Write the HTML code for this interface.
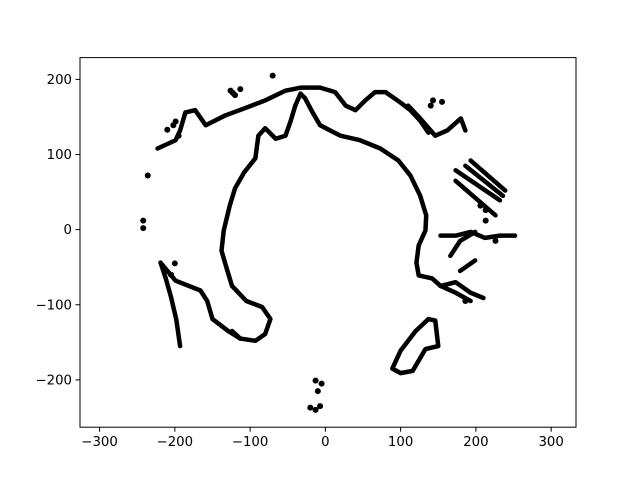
<!DOCTYPE html>
<html><head><meta charset="utf-8"><style>
body{margin:0;background:#fff}
svg text{font-family:"DejaVu Sans","Liberation Sans",sans-serif;font-size:13.3px;fill:#000}
</style></head><body>
<svg id="chart" width="640" height="480" xmlns="http://www.w3.org/2000/svg">
<rect x="0" y="0" width="640" height="480" fill="#fff"/>
<g id="marks"></g>
<g id="axes"></g>
</svg>
<script>
const xTicks=[-300,-200,-100,0,100,200,300];
const yTicks=[-200,-100,0,100,200];
const seriesMainArc=[[-33,181],[-40,165],[-46,145],[-53,125],[-66,121],[-80,135],[-89,125],[-93,95],[-108,76],[-120,55],[-127,32],[-135,-1],[-138,-28],[-131,-52],[-124,-75],[-105,-95],[-84,-103],[-73,-119],[-80,-139],[-93,-148],[-113,-145],[-124,-135]];
const seriesLeftLower=[[-219,-44],[-199,-68],[-166,-81],[-157,-95],[-150,-119],[-129,-135],[-113,-145]];
const seriesLeftLine=[[-219,-44],[-212,-65],[-205,-90],[-198,-120],[-193,-155]];
const seriesTopBand=[[-223,108],[-199,119],[-193,132],[-186,156],[-173,159],[-159,139],[-133,152],[-106,162],[-80,172],[-53,185],[-33,189],[-7,189],[13,183],[27,165],[40,159],[53,172],[66,183],[80,183],[100,169],[113,159],[126,145],[137,129]];
const seriesRightArc=[[-33,181],[-27,175],[-17,156],[-7,139],[20,125],[46,119],[73,108],[97,92],[113,72],[126,45],[134,19],[133,-1],[124,-21],[121,-44],[124,-61],[142,-65],[153,-75],[173,-84],[193,-95]];
const seriesBottomLoop=[[89,-185],[100,-161],[120,-135],[137,-119],[146,-121],[150,-155],[133,-159],[116,-188],[100,-191],[89,-185]];
const seriesRightA=[[173,79],[232,39]];
const seriesRightB=[[193,92],[239,52]];
const seriesRightC=[[173,65],[226,19]];
const seriesRightD=[[186,85],[236,45]];
const seriesRightRow=[[153,-8],[173,-8],[193,-3],[212,-11],[232,-8],[252,-8]];
const seriesRightMid=[[166,-35],[179,-15],[199,-3]];
const seriesRightLow=[[153,-75],[173,-70],[193,-84],[210,-91]];
const seriesRightLow2=[[179,-55],[199,-41]];
const seriesTopRight=[[110,165],[126,148],[146,125],[162,132],[180,148],[186,132]];
const seriesIsolated=[[-70,205],[-236,72],[-242,12],[-242,2],[-13,-201],[-5,-205],[-20,-237],[-13,-240],[-7,-235],[-10,-215],[143,172],[140,165],[155,170],[-202,139],[-195,125],[-210,133],[-199,144],[-120,179],[-126,185],[-113,187],[-123,182],[206,32],[213,26],[-205,-60],[-200,-45],[213,12],[226,-15],[186,-95]];
const lines=[seriesMainArc,seriesLeftLower,seriesLeftLine,seriesTopBand,seriesRightArc,seriesBottomLoop,seriesRightA,seriesRightB,seriesRightC,seriesRightD,seriesRightRow,seriesRightMid,seriesRightLow,seriesRightLow2,seriesTopRight];
const X0=80,X1=576,Y0=57.6,Y1=427.2;
const xMin=-326,xMax=333,yMin=-263,yMax=229;
function sx(v){return X0+(v-xMin)/(xMax-xMin)*(X1-X0);}
function sy(v){return Y1-(v-yMin)/(yMax-yMin)*(Y1-Y0);}
const NS="http://www.w3.org/2000/svg";
const marks=document.getElementById('marks');
lines.forEach((pts,i)=>{
  const pl=document.createElementNS(NS,'polyline');
  pl.setAttribute('points',pts.map(p=>sx(p[0])+','+sy(p[1])).join(' '));
  pl.setAttribute('fill','none');pl.setAttribute('stroke','#000');pl.setAttribute('stroke-width','4.5');
  pl.setAttribute('stroke-linecap','round');pl.setAttribute('stroke-linejoin','round');
  
  
  marks.appendChild(pl);
});
seriesIsolated.forEach(p=>{
  const c=document.createElementNS(NS,'circle');
  c.setAttribute('cx',sx(p[0]));c.setAttribute('cy',sy(p[1]));c.setAttribute('r','3');c.setAttribute('fill','#000');
  
  
  marks.appendChild(c);
});
const axes=document.getElementById('axes');
const fr=document.createElementNS(NS,'rect');
fr.setAttribute('x',X0);fr.setAttribute('y',Y0);fr.setAttribute('width',X1-X0);fr.setAttribute('height',Y1-Y0);
fr.setAttribute('fill','none');fr.setAttribute('stroke','#000');fr.setAttribute('stroke-width','1');


axes.appendChild(fr);
function fmt(v){return v<0?'\u2212'+(-v):''+v;}
xTicks.forEach(v=>{
  const l=document.createElementNS(NS,'line');
  l.setAttribute('x1',sx(v));l.setAttribute('x2',sx(v));l.setAttribute('y1',Y1);l.setAttribute('y2',Y1+4.5);l.setAttribute('stroke','#000');
  
  
  axes.appendChild(l);
  const t=document.createElementNS(NS,'text');
  t.setAttribute('x',sx(v));t.setAttribute('y',Y1+19);t.setAttribute('text-anchor','middle');t.textContent=fmt(v);
  
  
  axes.appendChild(t);
});
yTicks.forEach(v=>{
  const l=document.createElementNS(NS,'line');
  l.setAttribute('x1',X0-4.5);l.setAttribute('x2',X0);l.setAttribute('y1',sy(v));l.setAttribute('y2',sy(v));l.setAttribute('stroke','#000');
  
  
  axes.appendChild(l);
  const t=document.createElementNS(NS,'text');
  t.setAttribute('x',X0-8);t.setAttribute('y',sy(v)+4.5);t.setAttribute('text-anchor','end');t.textContent=fmt(v);
  
  
  axes.appendChild(t);
});
</script>
</body></html>
